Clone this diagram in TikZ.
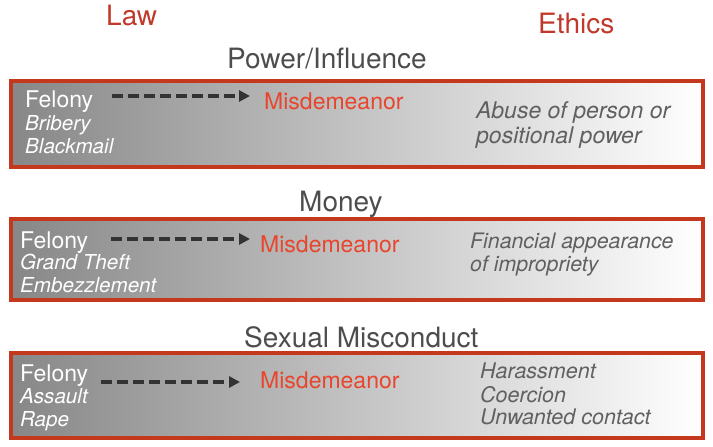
\documentclass[tikz,border=0pt]{standalone}
\usepackage{fontspec}
\setmainfont{TeX Gyre Heros}
\usetikzlibrary{arrows.meta}
\definecolor{lawred}{HTML}{C0392B}
\definecolor{misred}{HTML}{E8452C}
\definecolor{boxred}{HTML}{C4381E}
\definecolor{titlegray}{HTML}{4D4D4D}
\definecolor{ethgray}{HTML}{606060}
\definecolor{arrowgray}{HTML}{333333}
\begin{document}
\begin{tikzpicture}[x=1pt,y=-1pt,
  every node/.style={inner sep=0pt,anchor=base west},
  head/.style={text=lawred,font=\fontsize{28}{32}\selectfont},
  topic/.style={text=titlegray,font=\fontsize{28}{32}\selectfont},
  felony/.style={text=white,font=\fontsize{23}{26}\selectfont},
  crime/.style={text=white,font=\fontsize{20.6}{23}\selectfont\itshape},
  misd/.style={text=misred,font=\fontsize{23}{26}\selectfont},
  ethic/.style={text=ethgray,font=\fontsize{#1}{24}\selectfont\itshape},
  ethic/.default=21.5,
  band/.style={draw=boxred,line width=4pt,left color=black!47,right color=white},
  dasharrow/.style={arrowgray,line width=3.5pt,dash pattern=on 11pt off 5pt,
    -{Triangle[length=11pt,width=11pt]}}]
\useasboundingbox (0,0) rectangle (713,447);

\node[head] (law) at (106,25) {Law};
\node[head] (eth) at (538,33) {Ethics};

% power
\node[topic] (t1) at (227,68) {Power/Influence};
\draw[band] (11,81) rectangle (703,167);
\node[felony] (f1) at (25,107) {Felony};
\node[crime] (c1a) at (25,130) {Bribery};
\node[crime] (c1b) at (25,153) {Blackmail};
\node[misd] (m1) at (264,109) {Misdemeanor};
\node[ethic=23] (e1a) at (476,118) {Abuse of person or};
\node[ethic=23] (e1b) at (476,143) {positional power};
\coordinate (a1) at (112,96);
\draw[dasharrow,shorten >=14pt] (a1) -- (a1 -| m1.west);

% money
\node[topic] (t2) at (299,211) {Money};
\draw[band] (11,219) rectangle (703,300);
\node[felony] (f2) at (20,248) {Felony};
\node[crime] (c2a) at (20,269) {Grand Theft};
\node[crime] (c2b) at (20,292) {Embezzlement};
\node[misd] (m2) at (260,252) {Misdemeanor};
\node[ethic=21.3] (e2a) at (470,248) {Financial appearance};
\node[ethic=21.3] (e2b) at (470,271) {of impropriety};
\coordinate (a2) at (111,239);
\draw[dasharrow,shorten >=10pt] (a2) -- (a2 -| m2.west);

% sexual
\node[topic] (t3) at (244,347) {Sexual Misconduct};
\draw[band] (11,353) rectangle (703,438);
\node[felony] (f3) at (20,381) {Felony};
\node[crime] (c3a) at (20,403) {Assault};
\node[crime] (c3b) at (20,426) {Rape};
\node[misd] (m3) at (260,388) {Misdemeanor};
\node[ethic] (e3a) at (480,378) {Harassment};
\node[ethic] (e3b) at (480,402) {Coercion};
\node[ethic] (e3c) at (480,424) {Unwanted contact};
\coordinate (a3) at (101,382);
\draw[dasharrow,shorten >=20pt] (a3) -- (a3 -| m3.west);
\end{tikzpicture}
\end{document}
